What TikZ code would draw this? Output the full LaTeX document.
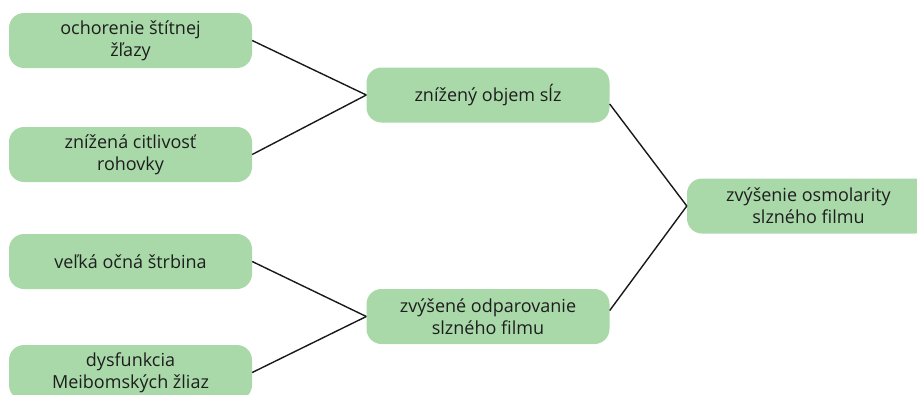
\documentclass[tikz,border=0pt]{standalone}
\usepackage{fontspec}
\setmainfont{Open Sans}
\usetikzlibrary{positioning}

\definecolor{boxgreen}{HTML}{A9D9A9}
\definecolor{textgray}{HTML}{1E1E1E}

\tikzset{
  cause/.style={draw=none, fill=boxgreen, rounded corners=15pt,
    minimum width=243pt, minimum height=55pt, align=center,
    text=textgray, font=\fontsize{18}{22}\selectfont},
  link/.style={draw=black!90, line width=1.4pt}
}

\begin{document}
\begin{tikzpicture}[x=1pt, y=-1pt]
\useasboundingbox (0,0) rectangle (917,394);
% left column
\node[cause] (stitna) at (130.5,40.5) {ochorenie štítnej\\žľazy};
\node[cause] (rohovka) at (130.5,154.5) {znížená citlivosť\\rohovky};
\node[cause] (strbina) at (130.5,261.5) {veľká očná štrbina};
\node[cause] (meibom) at (130.5,372.5) {dysfunkcia\\Meibomských žliaz};
% middle column
\node[cause] (objem) at (488,95) {znížený objem sĺz};
\node[cause] (odpar) at (488,316.5) {zvýšené odparovanie\\slzného filmu};
% right
\node[cause] (osmol) at (808.5,206) {zvýšenie osmolarity\\slzného filmu};
% connectors
\draw[link] (stitna.east) -- (objem.west);
\draw[link] (rohovka.east) -- (objem.west);
\draw[link] (strbina.east) -- (odpar.west);
\draw[link] (meibom.east) -- (odpar.west);
\draw[link] ([yshift=-9pt]objem.east) -- (osmol.west);
\draw[link] ([yshift=6pt]odpar.east) -- (osmol.west);
\end{tikzpicture}
\end{document}
